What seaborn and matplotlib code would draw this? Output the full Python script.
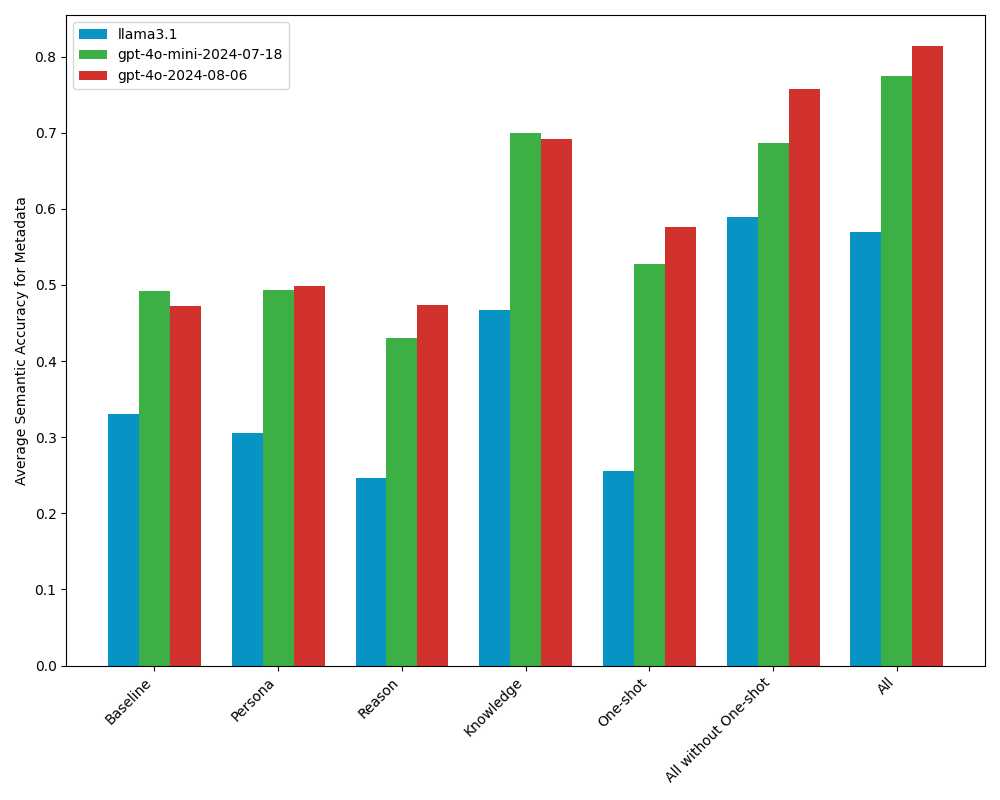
#!/usr/bin/env python3

import matplotlib
matplotlib.use("Agg")
import matplotlib.pyplot as plt
import seaborn as sns
import pandas as pd

# ===================== DATOS =====================

categories = ["Baseline", "Persona", "Reason", "Knowledge", "One-shot",
              "All without One-shot", "All"]
models = ["llama3.1", "gpt-4o-mini-2024-07-18", "gpt-4o-2024-08-06"]

llama = [0.330, 0.305, 0.247, 0.467, 0.255, 0.589, 0.570]
gpt4o_mini = [0.492, 0.493, 0.430, 0.700, 0.528, 0.687, 0.775]
gpt4o = [0.472, 0.499, 0.474, 0.692, 0.576, 0.758, 0.814]

colors = ["#0793c3", "#3db045", "#d1322e"]

# ===================== TABLA =====================

rows = []
for model, vals in zip(models, [llama, gpt4o_mini, gpt4o]):
    for cat, v in zip(categories, vals):
        rows.append({"Prompt": cat, "Model": model, "Accuracy": v})
df = pd.DataFrame(rows)

# ===================== GRAFICADO =====================

fig, ax = plt.subplots(figsize=(10, 8), dpi=100)

sns.barplot(
    data=df,
    x="Prompt",
    y="Accuracy",
    hue="Model",
    order=categories,
    hue_order=models,
    palette=colors,
    width=0.75,
    saturation=1,
    errorbar=None,
    ax=ax
)

ax.set_xlim(-0.7125, len(categories) - 1 + 0.7125)
ax.set_xlabel("")
ax.set_ylabel("Average Semantic Accuracy for Metadata")
plt.setp(ax.get_xticklabels(), rotation=45, ha="right")
ax.legend(loc="upper left", title=None)

plt.tight_layout()
plt.savefig("out.png", dpi=100)
plt.close("all")
